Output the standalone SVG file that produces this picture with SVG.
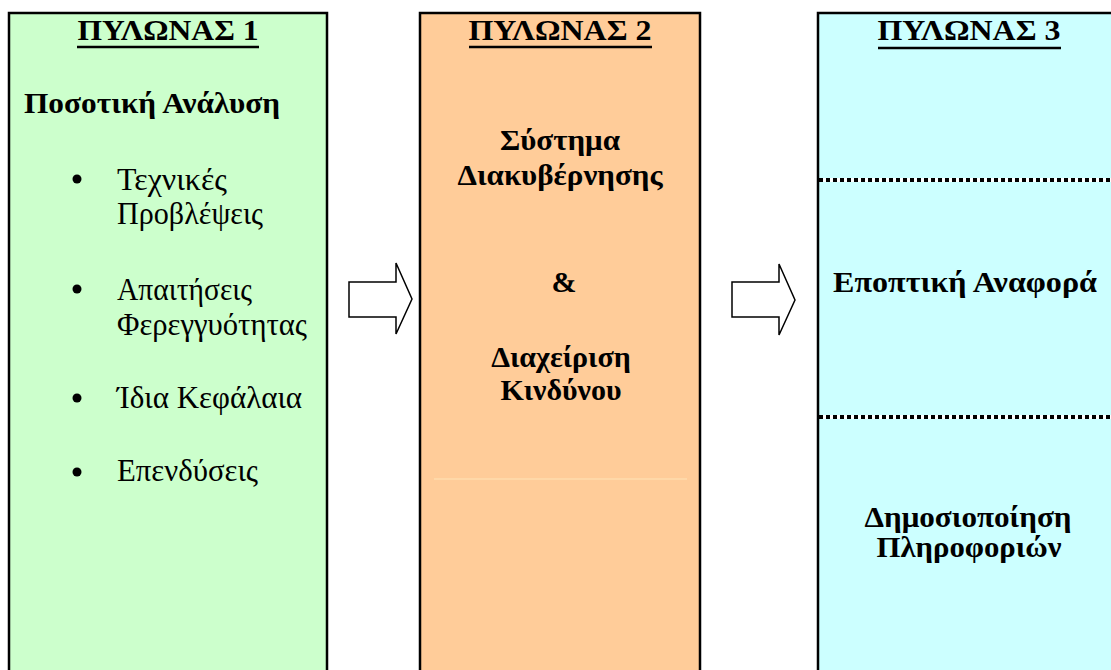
<svg xmlns="http://www.w3.org/2000/svg" width="1111" height="670" viewBox="0 0 1111 670">
<style>
.box{stroke:#000;stroke-width:2.5}
.t{font-family:"Liberation Serif","Times New Roman",serif;fill:#000}
.title{font-size:30px;font-weight:bold}
.b{font-size:30px;font-weight:bold}
.r{font-size:31px}
.c{text-anchor:middle}
.ul{stroke:#000;stroke-width:2.5}
.arrow{fill:#fff;stroke:#000;stroke-width:1.5;stroke-linejoin:miter}
.dotbg{stroke:#fff;stroke-width:4}
.dot{stroke:#000;stroke-width:4;stroke-dasharray:4 3}
</style>
<rect width="1111" height="670" fill="#fff"/>
<g id="pillar1">
<rect class="box" x="9" y="13" width="318" height="670" fill="#ccffcc"/>
<text class="t title c" x="168" y="40" textLength="181" lengthAdjust="spacingAndGlyphs">ΠΥΛΩΝΑΣ 1</text>
<line class="ul" x1="77" y1="47" x2="259" y2="47"/>
<text class="t b" x="24" y="113" textLength="256" lengthAdjust="spacingAndGlyphs">Ποσοτική Ανάλυση</text>
<g fill="#000">
<circle cx="77" cy="179" r="4.5"/>
<circle cx="77" cy="289" r="4.5"/>
<circle cx="77" cy="398" r="4.5"/>
<circle cx="77" cy="472" r="4.5"/>
</g>
<text class="t r" x="117" y="190" textLength="110" lengthAdjust="spacingAndGlyphs">Τεχνικές</text>
<text class="t r" x="117" y="224" textLength="146" lengthAdjust="spacingAndGlyphs">Προβλέψεις</text>
<text class="t r" x="117" y="300" textLength="135" lengthAdjust="spacingAndGlyphs">Απαιτήσεις</text>
<text class="t r" x="117" y="335" textLength="190" lengthAdjust="spacingAndGlyphs">Φερεγγυότητας</text>
<text class="t r" x="117" y="408" textLength="185" lengthAdjust="spacingAndGlyphs">Ίδια Κεφάλαια</text>
<text class="t r" x="117" y="481" textLength="141" lengthAdjust="spacingAndGlyphs">Επενδύσεις</text>
</g>
<g id="pillar2">
<rect class="box" x="420" y="13" width="280" height="670" fill="#ffcc99"/>
<text class="t title c" x="560" y="40" textLength="183" lengthAdjust="spacingAndGlyphs">ΠΥΛΩΝΑΣ 2</text>
<line class="ul" x1="469" y1="47" x2="652" y2="47"/>
<text class="t b c" x="560" y="150" textLength="120" lengthAdjust="spacingAndGlyphs">Σύστημα</text>
<text class="t b c" x="560" y="185" textLength="205" lengthAdjust="spacingAndGlyphs">Διακυβέρνησης</text>
<text class="t b c" x="564" y="292">&amp;</text>
<text class="t b c" x="561" y="367">Διαχείριση</text>
<text class="t b c" x="561" y="400">Κινδύνου</text>
<line x1="434" y1="479" x2="687" y2="479" stroke="#ffdcae" stroke-width="1.5"/>
</g>
<g id="pillar3">
<rect class="box" x="818" y="13" width="310" height="670" fill="#ccffff"/>
<text class="t title c" x="969" y="40" textLength="183" lengthAdjust="spacingAndGlyphs">ΠΥΛΩΝΑΣ 3</text>
<line class="ul" x1="878" y1="48" x2="1061" y2="48"/>
<line class="dotbg" x1="819" y1="180" x2="1111" y2="180"/>
<line class="dot" x1="819" y1="180" x2="1111" y2="180"/>
<text class="t b c" x="965" y="292" textLength="264" lengthAdjust="spacingAndGlyphs">Εποπτική Αναφορά</text>
<line class="dotbg" x1="819" y1="417" x2="1111" y2="417"/>
<line class="dot" x1="819" y1="417" x2="1111" y2="417"/>
<text class="t b c" x="968" y="527" textLength="207" lengthAdjust="spacingAndGlyphs">Δημοσιοποίηση</text>
<text class="t b c" x="969" y="557" textLength="185" lengthAdjust="spacingAndGlyphs">Πληροφοριών</text>
</g>
<g id="connectors">
<polygon class="arrow" points="349,282 396,282 396,263 412,299 396,334 396,317 349,317"/>
<polygon class="arrow" points="732,282 779,282 779,264 795,300 779,335 779,317 732,317"/>
</g>
</svg>
